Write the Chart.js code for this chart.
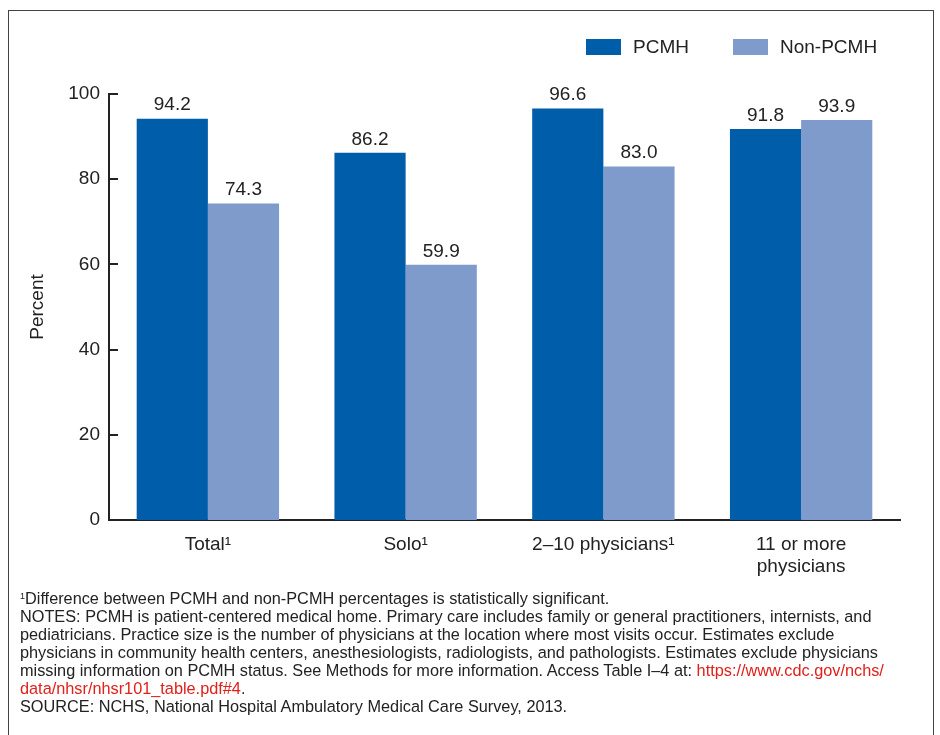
<!DOCTYPE html>
<html>
<head>
<meta charset="utf-8">
<script src="https://cdn.jsdelivr.net/npm/chart.js@4"></script>
<style>
  body { margin: 0; background: #fff; font-family: "Liberation Sans", Arial, sans-serif; }
  #frame { position: absolute; left: 8px; top: 10px; width: 926px; height: 740px; border: 1px solid #444; border-bottom: none; box-sizing: border-box; }
  #wrap { position: absolute; left: 0; top: 0; width: 940px; height: 590px; }
  .legend { position: absolute; top: 36px; font-size: 19px; color: #222; display: flex; align-items: center; white-space: nowrap; }
  .legend span.box { display: inline-block; width: 35px; height: 16px; margin-right: 12px; }
  #notes { position: absolute; left: 20px; top: 589px; font-family: "Liberation Sans", Arial, sans-serif; font-size: 16.3px; line-height: 18px; color: #222; white-space: nowrap; }
  #notes a { color: #e0201b; text-decoration: none; }
  sup { font-size: 9px; vertical-align: 5px; line-height: 0; }
</style>
</head>
<body>
<div id="frame"></div>
<div id="wrap"><canvas id="chart" width="940" height="590"></canvas></div>
<div class="legend" style="left:586px"><span class="box" style="background:#005DAA"></span>PCMH</div>
<div class="legend" style="left:733px"><span class="box" style="background:#7F9BCC"></span>Non-PCMH</div>
<div id="notes">
<sup>1</sup>Difference between PCMH and non-PCMH percentages is statistically significant.<br>
NOTES: PCMH is patient-centered medical home. Primary care includes family or general practitioners, internists, and<br>
pediatricians. Practice size is the number of physicians at the location where most visits occur. Estimates exclude<br>
physicians in community health centers, anesthesiologists, radiologists, and pathologists. Estimates exclude physicians<br>
missing information on PCMH status. See Methods for more information. Access Table I&ndash;4 at: <a>https://www.cdc.gov/nchs/</a><br>
<a>data/nhsr/nhsr101_table.pdf#4</a>.<br>
SOURCE: NCHS, National Hospital Ambulatory Medical Care Survey, 2013.
</div>
<script>
const categories = ['Total¹', 'Solo¹', '2–10 physicians¹', ['11 or more', 'physicians']];
const pcmh = [94.2, 86.2, 96.6, 91.8];
const nonPcmh = [74.3, 59.9, 83.0, 93.9];
const yTicks = [0, 20, 40, 60, 80, 100];

// value labels above bars
const valueLabels = {
  id: 'valueLabels',
  afterDatasetsDraw(chart) {
    const ctx = chart.ctx;
    ctx.save();
    ctx.font = '19px "Liberation Sans", Arial, sans-serif';
    ctx.fillStyle = '#222';
    ctx.textAlign = 'center';
    ctx.textBaseline = 'bottom';
    chart.data.datasets.forEach((ds, i) => {
      chart.getDatasetMeta(i).data.forEach((bar, j) => {
        ctx.fillText(ds.data[j].toFixed(1), bar.x, bar.y - 4);
      });
    });
    ctx.restore();
  }
};

// short inward ticks on the y axis
const innerTicks = {
  id: 'innerTicks',
  afterDraw(chart) {
    const y = chart.scales.y;
    const ctx = chart.ctx;
    ctx.save();
    ctx.strokeStyle = '#222';
    ctx.lineWidth = 2;
    yTicks.forEach(v => {
      if (v === 0) return;
      const py = Math.round(y.getPixelForValue(v));
      ctx.beginPath();
      ctx.moveTo(y.right, py);
      ctx.lineTo(y.right + 9, py);
      ctx.stroke();
    });
    ctx.restore();
  }
};

new Chart(document.getElementById('chart'), {
  type: 'bar',
  data: {
    labels: categories,
    datasets: [
      { label: 'PCMH', data: pcmh, backgroundColor: '#005DAA' },
      { label: 'Non-PCMH', data: nonPcmh, backgroundColor: '#7F9BCC' }
    ]
  },
  options: {
    responsive: false,
    animation: false,
    layout: { padding: { top: 94, right: 40, left: 0, bottom: 0 } },
    datasets: { bar: { categoryPercentage: 0.72, barPercentage: 1 } },
    plugins: { legend: { display: false }, tooltip: { enabled: false } },
    scales: {
      x: {
        grid: { display: false, drawTicks: false },
        border: { color: '#222', width: 2 },
        ticks: { color: '#222', font: { size: 19, family: '"Liberation Sans", Arial, sans-serif' }, padding: 13, maxRotation: 0, autoSkip: false },
        afterFit(scale) { scale.height = 70; }
      },
      y: {
        min: 0, max: 100,
        afterBuildTicks(scale) { scale.ticks = yTicks.map(v => ({ value: v })); },
        grid: { display: false, drawTicks: false },
        border: { color: '#222', width: 2 },
        ticks: { color: '#222', font: { size: 19, family: '"Liberation Sans", Arial, sans-serif' }, padding: 9 },
        title: { display: true, text: 'Percent', color: '#222', font: { size: 19, family: '"Liberation Sans", Arial, sans-serif' }, padding: { top: 26 } },
        afterFit(scale) { scale.width = 109; }
      }
    }
  },
  plugins: [valueLabels, innerTicks]
});
</script>
</body>
</html>
